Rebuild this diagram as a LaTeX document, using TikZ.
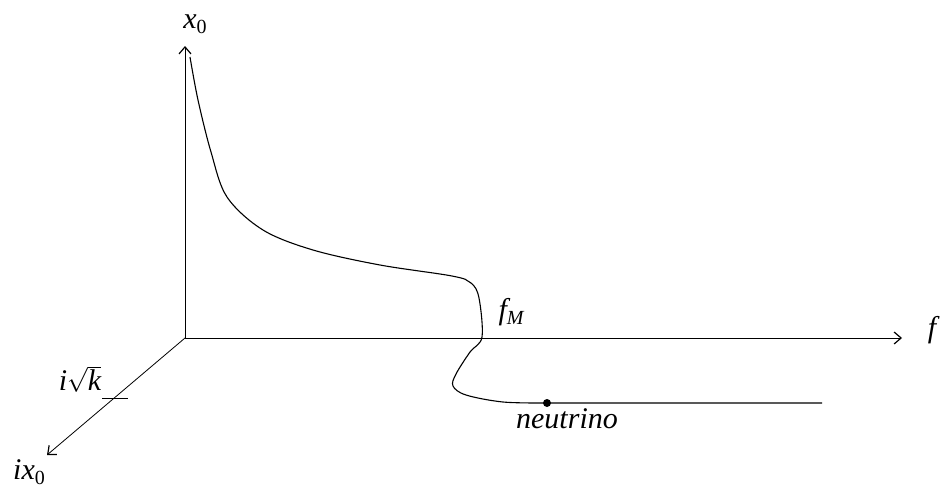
\documentclass[tikz,border=0pt]{standalone}
\usepackage{fontspec}
\setmainfont{Liberation Serif}[ItalicFont={Liberation Serif Italic}]
\usetikzlibrary{arrows.meta,positioning}
\newcommand{\sub}[1]{\raisebox{-0.35ex}{\fontsize{20}{22}\selectfont #1}}

\begin{document}
\begin{tikzpicture}[
  x=1pt, y=-1pt,
  axis/.style={line width=0.8pt, -{Straight Barb[length=7pt,width=12pt,line width=1.2pt]}},
  curve/.style={line width=1.1pt},
  lab/.style={font=\fontsize{30}{32}\selectfont\itshape, inner sep=0pt}
]
\useasboundingbox (0,0) rectangle (942,493);

% axes
\coordinate (O) at (185,338);
\coordinate (ytip) at (185,46);
\coordinate (xtip) at (902,338);
\coordinate (ztip) at (47,455);
\draw[axis] (O) -- (ytip);
\draw[axis] (O) -- (xtip);
\draw[axis] (O) -- (ztip);

\node[lab] (xlab) at (195,24) {x\sub{\upshape 0}};
\node[lab] (flab) at (932,330) {f};
\node[lab] (zlab) at (29,472) {ix\sub{\upshape 0}};

% tick on the imaginary axis
\coordinate (tickL) at (102,398);
\coordinate (tickR) at (128,398);
\draw[line width=0.8pt] (tickL) -- (tickR);
\node[lab] (klab) at (80,379) {i$\sqrt{\mbox{\itshape k}}$};

% curve
\node[circle, fill, inner sep=0pt, minimum size=8pt] (dot) at (547,403) {};
\coordinate (cend) at (822,403);
\draw[curve] plot[smooth, tension=0.55] coordinates {
  (190,57) (198,100) (211,152) (227,197) (263,230) (313,250) (380,265)
  (452,276) (471,283) (479,298) (482,337) (470,352) (456,374) (453,386)
  (466,395) (503,402) (547,403)} -- (cend);

\node[lab] (fmlab) at (511,312) {f\sub{M}};
\node[lab] (nlab) at (567,419) {neutrino};
\end{tikzpicture}
\end{document}
